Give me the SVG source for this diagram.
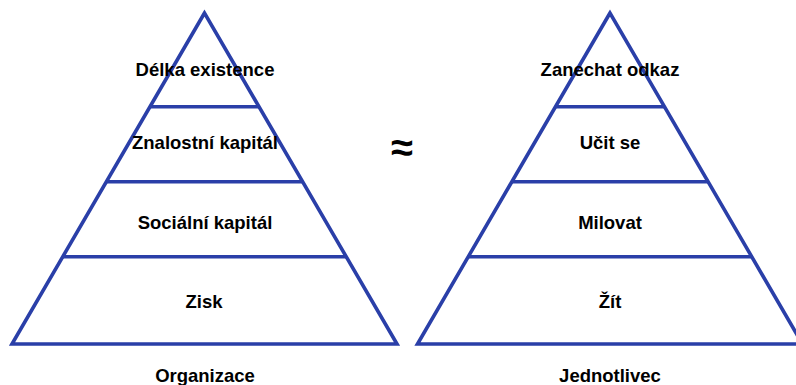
<svg xmlns="http://www.w3.org/2000/svg" width="796" height="385" viewBox="0 0 796 385">
  <style>
    .edge { fill: none; stroke: #2a3fa8; stroke-width: 3.6; stroke-linejoin: miter; }
    .tier { stroke: #2a3fa8; stroke-width: 3.6; }
    .lbl { font-family: "Liberation Sans", Arial, sans-serif; font-weight: bold; font-size: 18.5px; fill: #000; text-anchor: middle; }
    .sym { font-family: "Liberation Sans", Arial, sans-serif; font-weight: bold; font-size: 40px; fill: #000; text-anchor: middle; }
  </style>
  <rect width="796" height="385" fill="#fff"/>

  <!-- Left pyramid: organisation -->
  <g id="pyramid-organizace">
    <polygon class="edge" points="204.5,13 12,344 397,344"/>
    <line class="tier" x1="150" y1="106.7" x2="259" y2="106.7"/>
    <line class="tier" x1="106.4" y1="181.7" x2="302.6" y2="181.7"/>
    <line class="tier" x1="62.8" y1="256.7" x2="346.2" y2="256.7"/>
  </g>
  <g id="org-delka"><text class="lbl" x="205" y="76">Délka existence</text></g>
  <g id="org-znalostni"><text class="lbl" x="205" y="149">Znalostní kapitál</text></g>
  <g id="org-socialni"><text class="lbl" x="205" y="229">Sociální kapitál</text></g>
  <g id="org-zisk"><text class="lbl" x="204" y="308">Zisk</text></g>
  <g id="org-title"><text class="lbl" x="205" y="382">Organizace</text></g>

  <!-- Approximately-equal sign between the pyramids -->
  <g id="approx"><text class="sym" x="402" y="161">≈</text></g>

  <!-- Right pyramid: individual -->
  <g id="pyramid-jednotlivec">
    <polygon class="edge" points="610,13 417.5,344 802.5,344"/>
    <line class="tier" x1="555.5" y1="106.7" x2="664.5" y2="106.7"/>
    <line class="tier" x1="511.9" y1="181.7" x2="708.1" y2="181.7"/>
    <line class="tier" x1="468.3" y1="256.7" x2="751.7" y2="256.7"/>
  </g>
  <g id="ind-odkaz"><text class="lbl" x="610" y="76">Zanechat odkaz</text></g>
  <g id="ind-ucit"><text class="lbl" x="610" y="149">Učit se</text></g>
  <g id="ind-milovat"><text class="lbl" x="610" y="229">Milovat</text></g>
  <g id="ind-zit"><text class="lbl" x="610" y="308">Žít</text></g>
  <g id="ind-title"><text class="lbl" x="610" y="382">Jednotlivec</text></g>

  <g id="connectors"></g>
</svg>
